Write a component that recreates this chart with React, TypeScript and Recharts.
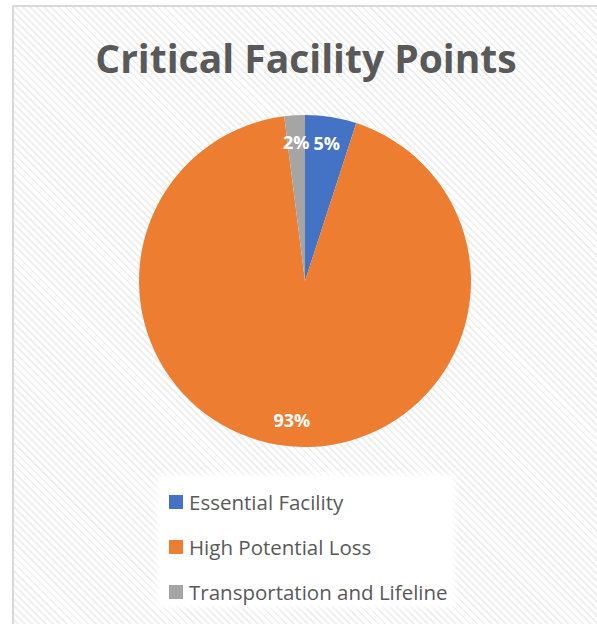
import React from 'react';
import { PieChart, Pie, Cell } from 'recharts';

const categories = ['Essential Facility', 'High Potential Loss', 'Transportation and Lifeline'];
const shares = [5, 93, 2];
const COLORS = ['#4472C4', '#ED7D31', '#A5A5A5'];

const data = categories.map((name, i) => ({ name, value: shares[i] }));

const TEXT = '#595959';
const FONT = '"Open Sans", "Liberation Sans", sans-serif';

const RAD = Math.PI / 180;

function renderLabel(props: any) {
  const { cx, cy, midAngle, outerRadius, value } = props;
  const r = outerRadius * 0.84;
  const x = cx + r * Math.cos(-midAngle * RAD);
  const y = cy + r * Math.sin(-midAngle * RAD);
  return (
    <text
      x={x}
      y={y}
      fill="#fff"
      textAnchor="middle"
      dominantBaseline="central"
      fontFamily={FONT}
      fontWeight={700}
      fontSize={18}
    >
      {`${value}%`}
    </text>
  );
}

function ChartLegend() {
  return (
    <div
      style={{
        position: 'absolute',
        left: 160,
        top: 477,
        width: 292,
        height: 128,
        boxSizing: 'border-box',
        background: '#fff',
        boxShadow: '0 0 6px 3px rgba(255,255,255,0.9)',
        padding: '2px 0 0 9px',
        fontFamily: FONT,
      }}
    >
      {categories.map((name, i) => (
        <div key={name} style={{ display: 'flex', alignItems: 'center', height: 45 }}>
          <span style={{ width: 14, height: 14, background: COLORS[i], marginRight: 6, flex: 'none' }} />
          <span style={{ fontSize: 20.5, color: TEXT, whiteSpace: 'nowrap' }}>{name}</span>
        </div>
      ))}
    </div>
  );
}

export default function App() {
  return (
    <div style={{ position: 'absolute', left: 0, top: 0, width: 597, height: 624, background: '#fff', overflow: 'hidden' }}>
      <div
        style={{
          position: 'absolute',
          left: 12,
          top: 5,
          width: 600,
          height: 640,
          border: '2px solid #d9d9d9',
          background: 'repeating-linear-gradient(45deg, #ffffff 0px, #ffffff 3px, #efefef 3px, #efefef 5px)',
        }}
      />
      <div
        style={{
          position: 'absolute',
          left: 0,
          width: 612,
          top: 31,
          textAlign: 'center',
          fontFamily: FONT,
          fontWeight: 700,
          fontSize: 39,
          color: TEXT,
          lineHeight: '54px',
        }}
      >
        Critical Facility Points
      </div>
      <div style={{ position: 'absolute', left: 0, top: 0 }}>
        <PieChart width={597} height={624} margin={{ top: 0, right: 0, bottom: 0, left: 0 }}>
          <Pie
            data={data}
            dataKey="value"
            nameKey="name"
            cx={305}
            cy={281}
            outerRadius={166}
            startAngle={90}
            endAngle={-270}
            stroke="none"
            label={renderLabel}
            labelLine={false}
            isAnimationActive={false}
          >
            {data.map((_, i) => (
              <Cell key={`cell-${i}`} fill={COLORS[i]} />
            ))}
          </Pie>
        </PieChart>
      </div>
      <ChartLegend />
    </div>
  );
}
